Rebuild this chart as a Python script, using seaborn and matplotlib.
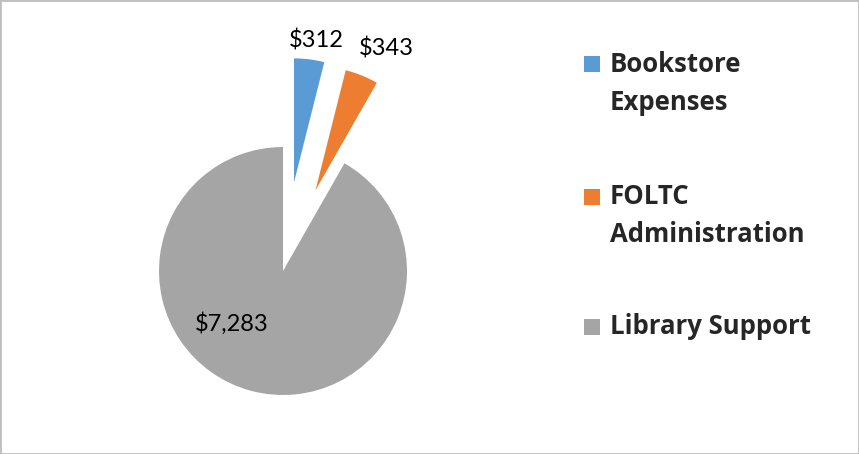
import matplotlib
matplotlib.use("Agg")
import matplotlib.pyplot as plt
import matplotlib.patches as mpatches
import seaborn as sns

categories = ["Bookstore\nExpenses", "FOLTC\nAdministration", "Library Support"]
amounts = [312, 343, 7283]
value_labels = ["$312", "$343", "$7,283"]
colors = ["#5B9BD5", "#ED7D31", "#A5A5A5"]
explode_frac = [0.72, 0.70, 0.0]

sns.set_theme(style="white")
plt.rcParams["font.family"] = ["Lato", "DejaVu Sans"]

W, H = 859, 454
fig = plt.figure(figsize=(W / 100, H / 100), dpi=100)
ax = fig.add_axes([0, 0, 1, 1])

cx, cy, r = 283, H - 271, 124
# matplotlib's explode is in data units, not radius fractions
wedges, texts = ax.pie(amounts, colors=colors, explode=[e * r for e in explode_frac],
                       startangle=90, counterclock=False, center=(cx, cy), radius=r,
                       labels=value_labels, labeldistance=1.2,
                       wedgeprops=dict(linewidth=0),
                       textprops=dict(fontsize=17, color="black"))
# pie() resets the limits, so set them afterwards
ax.set_xlim(0, W)
ax.set_ylim(0, H)
ax.set_aspect("equal")
ax.axis("off")

# nudge data labels to where the original puts them
label_pos = [(316, 40), (386, 48), (232, 324)]
for t, (x, y) in zip(texts, label_pos):
    t.set_position((x, H - y))
    t.set_ha("center")
    t.set_va("center")

# legend, square next to first line of each label
leg_y = [64, 197, 327]
for name, col, y in zip(categories, colors, leg_y):
    ax.add_patch(mpatches.Rectangle((584, H - y - 8), 16, 16, color=col, lw=0))
    for i, line in enumerate(name.split("\n")):
        ax.text(610, H - y - 38 * i, line, fontsize=18.5, fontweight="bold",
                family=["Open Sans", "DejaVu Sans"], va="center", ha="left")

fig.patches.append(mpatches.Rectangle((0, 0), 1, 1, transform=fig.transFigure,
                                      fill=False, edgecolor="#BFBFBF", lw=2))

fig.savefig("out.png", dpi=100)
